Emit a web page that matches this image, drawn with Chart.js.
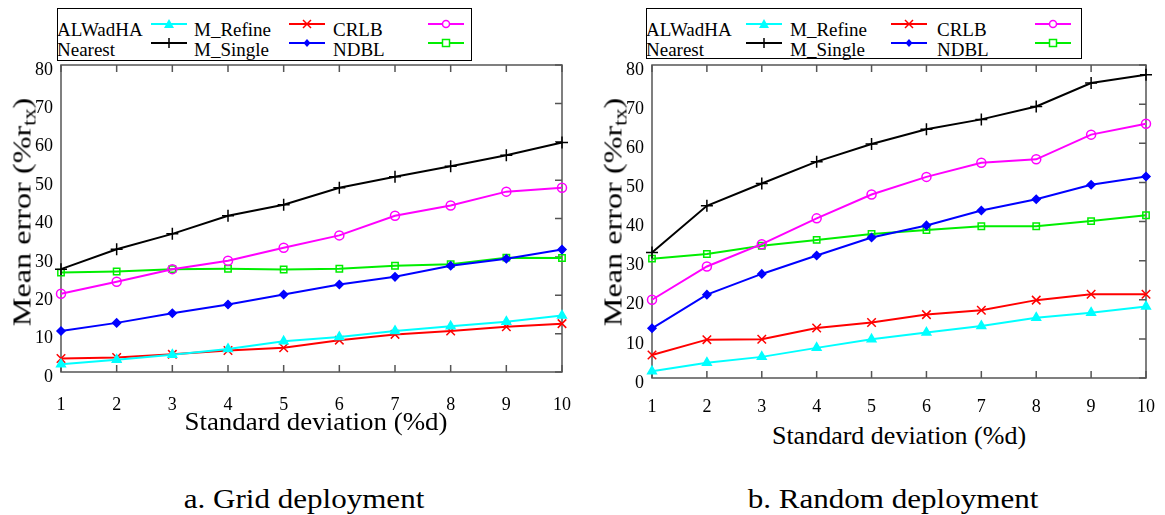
<!DOCTYPE html>
<html lang="en">
<head>
<meta charset="UTF-8">
<title>Mean error vs standard deviation</title>
<script src="https://cdn.jsdelivr.net/npm/chart.js"></script>
<style>
  body { margin: 0; width: 1165px; height: 515px; position: relative; overflow: hidden; background: #fff; font-family: "Liberation Serif", serif; color: #000; }
  .abs { position: absolute; white-space: nowrap; line-height: 1; }
  .box { position: absolute; border: 1.5px solid #000; box-sizing: border-box; }
  .leg { font-size: 19px; }
  .ytitle { font-size: 26px; transform: translate(-50%, -50%) rotate(-90deg) scaleX(1.24); }
  .ytitle sub { font-size: 18px; vertical-align: -5px; }
  .caption { font-size: 27px; transform: translateX(-50%) scaleX(1.15); }
  canvas { position: absolute; }
</style>
</head>
<body>

<!-- legend, left chart -->
<div class="box" style="left:57px; top:8px; width:415px; height:53px;"></div>
<div class="abs leg" style="left:57px; top:20px;">ALWadHA</div>
<div class="abs leg" style="left:57px; top:40px;">Nearest</div>
<svg class="abs" data-m="tri" data-c="#00ffff" style="left:150px; top:15px;" width="40" height="18"></svg>
<svg class="abs" data-m="plus" data-c="#000000" style="left:150px; top:34px;" width="40" height="18"></svg>
<div class="abs leg" style="left:194px; top:20px;">M_Refine</div>
<div class="abs leg" style="left:194px; top:40px;">M_Single</div>
<svg class="abs" data-m="x" data-c="#ff0000" style="left:288px; top:15px;" width="40" height="18"></svg>
<svg class="abs" data-m="dia" data-c="#0000ff" style="left:288px; top:34px;" width="40" height="18"></svg>
<div class="abs leg" style="left:333px; top:20px;">CRLB</div>
<div class="abs leg" style="left:333px; top:40px;">NDBL</div>
<svg class="abs" data-m="circ" data-c="#ff00ff" style="left:427px; top:15px;" width="40" height="18"></svg>
<svg class="abs" data-m="sq" data-c="#00ee00" style="left:427px; top:34px;" width="40" height="18"></svg>

<!-- legend, right chart -->
<div class="box" style="left:646px; top:8px; width:436px; height:51px;"></div>
<div class="abs leg" style="left:646px; top:20px;">ALWadHA</div>
<div class="abs leg" style="left:646px; top:40px;">Nearest</div>
<svg class="abs" data-m="tri" data-c="#00ffff" style="left:745px; top:15px;" width="40" height="18"></svg>
<svg class="abs" data-m="plus" data-c="#000000" style="left:745px; top:34px;" width="40" height="18"></svg>
<div class="abs leg" style="left:790px; top:20px;">M_Refine</div>
<div class="abs leg" style="left:790px; top:40px;">M_Single</div>
<svg class="abs" data-m="x" data-c="#ff0000" style="left:890px; top:15px;" width="40" height="18"></svg>
<svg class="abs" data-m="dia" data-c="#0000ff" style="left:890px; top:34px;" width="40" height="18"></svg>
<div class="abs leg" style="left:937px; top:20px;">CRLB</div>
<div class="abs leg" style="left:937px; top:40px;">NDBL</div>
<svg class="abs" data-m="circ" data-c="#ff00ff" style="left:1034px; top:15px;" width="40" height="18"></svg>
<svg class="abs" data-m="sq" data-c="#00ee00" style="left:1034px; top:34px;" width="40" height="18"></svg>

<canvas id="gridChart" width="585" height="370" style="left:0; top:50px;"></canvas>
<canvas id="randomChart" width="575" height="370" style="left:590px; top:50px;"></canvas>

<div class="abs ytitle" style="left:24px; top:212px;">Mean error (%r<sub>tx</sub>)</div>
<div class="abs ytitle" style="left:615px; top:212px;">Mean error (%r<sub>tx</sub>)</div>
<div class="abs" style="left:316px; top:409px; font-size:26px; transform: translateX(-50%) scaleX(1.035);">Standard deviation (%d)</div>
<div class="abs" style="left:899px; top:423px; font-size:26px; transform: translateX(-50%);">Standard deviation (%d)</div>
<div class="abs caption" style="left:304px; top:486px;">a. Grid deployment</div>
<div class="abs caption" style="left:893px; top:486px;">b. Random deployment</div>

<script>
// x values and axis ticks
const stdDev = [1, 2, 3, 4, 5, 6, 7, 8, 9, 10];
const yTicks = [0, 10, 20, 30, 40, 50, 60, 70, 80];

// a. Grid deployment
const gridAlwadha = [2.0, 3.2, 4.5, 6.0, 8.0, 9.1, 10.7, 11.9, 13.1, 14.7];
const gridNearest = [26.8, 32.0, 36.0, 40.7, 43.6, 48.0, 50.9, 53.6, 56.5, 59.8];
const gridRefine = [3.5, 3.8, 4.6, 5.6, 6.3, 8.3, 9.8, 10.7, 11.8, 12.6];
const gridSingle = [10.7, 12.8, 15.3, 17.6, 20.2, 22.8, 24.8, 27.7, 29.5, 31.9];
const gridCrlb = [20.4, 23.5, 26.8, 29.0, 32.4, 35.6, 40.7, 43.4, 47.0, 48.0];
const gridNdbl = [25.9, 26.2, 26.8, 26.9, 26.7, 26.9, 27.7, 28.1, 29.8, 29.7];

// b. Random deployment
const randAlwadha = [1.7, 3.9, 5.4, 7.7, 9.9, 11.6, 13.3, 15.4, 16.7, 18.3];
const randNearest = [32.1, 44.0, 49.7, 55.3, 59.8, 63.6, 66.1, 69.4, 75.4, 77.5];
const randRefine = [5.9, 9.8, 9.9, 12.8, 14.2, 16.2, 17.3, 19.9, 21.4, 21.4];
const randSingle = [12.7, 21.3, 26.6, 31.3, 35.9, 39.0, 42.8, 45.7, 49.4, 51.5];
const randCrlb = [20.0, 28.5, 34.2, 40.8, 46.9, 51.4, 55.0, 55.9, 62.2, 65.0];
const randNdbl = [30.5, 31.7, 33.8, 35.3, 36.8, 37.8, 38.8, 38.8, 40.1, 41.6];

const FONT = 'Liberation Serif';

// line styles: color, chart.js point style, filled marker?
const styles = [
  { label: 'ALWadHA', color: '#00ffff', point: 'triangle', fill: true, r: 5 },
  { label: 'Nearest', color: '#000000', point: 'cross', fill: false, r: 6 },
  { label: 'M_Refine', color: '#ff0000', point: 'crossRot', fill: false, r: 6 },
  { label: 'M_Single', color: '#0000ff', point: 'rectRot', fill: true, r: 4 },
  { label: 'CRLB', color: '#ff00ff', point: 'circle', fill: false, r: 4.5 },
  { label: 'NDBL', color: '#00ee00', point: 'rect', fill: false, r: 4.5 }
];

// gnuplot style frame with inward ticks
const frameTicks = {
  id: 'frameTicks',
  beforeDatasetsDraw(chart) {
    const { ctx, chartArea: a, scales } = chart;
    ctx.save();
    ctx.strokeStyle = '#555';
    ctx.lineWidth = 1.5;
    ctx.strokeRect(a.left, a.top, a.right - a.left, a.bottom - a.top);
    ctx.beginPath();
    stdDev.forEach(v => {
      const px = scales.x.getPixelForValue(v);
      ctx.moveTo(px, a.bottom); ctx.lineTo(px, a.bottom - 7);
      ctx.moveTo(px, a.top); ctx.lineTo(px, a.top + 7);
    });
    yTicks.forEach(v => {
      const py = scales.y.getPixelForValue(v);
      ctx.moveTo(a.right, py); ctx.lineTo(a.right - 7, py);
    });
    ctx.stroke();
    ctx.restore();
  }
};

function makeChart(id, series, pad, xPad) {
  const datasets = series.map((data, i) => {
    const s = styles[i];
    return {
      label: s.label,
      data: data,
      borderColor: s.color,
      backgroundColor: s.fill ? s.color : 'rgba(0,0,0,0)',
      borderWidth: 2,
      pointStyle: s.point,
      pointRadius: s.r,
      pointBorderWidth: 1.5,
      pointBorderColor: s.color,
      pointBackgroundColor: s.fill ? s.color : 'rgba(0,0,0,0)',
      tension: 0,
      clip: false
    };
  });
  return new Chart(document.getElementById(id), {
    type: 'line',
    data: { labels: stdDev, datasets: datasets },
    options: {
      responsive: false,
      animation: false,
      devicePixelRatio: 1,
      layout: { padding: pad },
      plugins: { legend: { display: false }, tooltip: { enabled: false } },
      scales: {
        x: {
          type: 'linear', min: 1, max: 10,
          grid: { display: false }, border: { display: false },
          ticks: { stepSize: 1, autoSkip: false, maxRotation: 0, padding: xPad, color: '#000', font: { family: FONT, size: 18 } },
          afterFit: s => { s.height = 42; }
        },
        y: {
          min: 0, max: 80,
          grid: { display: false }, border: { display: false },
          ticks: { stepSize: 10, padding: 0, labelOffset: 5, color: '#000', font: { family: FONT, size: 18 } },
          afterFit: s => { s.width = 40; }
        }
      }
    },
    plugins: [frameTicks]
  });
}

makeChart('gridChart', [gridAlwadha, gridNearest, gridRefine, gridSingle, gridCrlb, gridNdbl],
  { left: 21, right: 23, top: 15, bottom: 6 }, 14);
makeChart('randomChart', [randAlwadha, randNearest, randRefine, randSingle, randCrlb, randNdbl],
  { left: 22, right: 14, top: 15, bottom: 0 }, 10);

// legend samples: short line with the marker in the middle
document.querySelectorAll('svg[data-m]').forEach(svg => {
  const c = svg.dataset.c, m = svg.dataset.m, cx = 19, cy = 9;
  let mk = '';
  if (m === 'tri') mk = `<polygon points="${cx},${cy - 5} ${cx - 5},${cy + 4} ${cx + 5},${cy + 4}" fill="${c}"/>`;
  if (m === 'plus') mk = `<path d="M${cx - 5},${cy}H${cx + 5}M${cx},${cy - 5}V${cy + 5}" stroke="${c}" stroke-width="1.5"/>`;
  if (m === 'x') mk = `<path d="M${cx - 4},${cy - 4}L${cx + 4},${cy + 4}M${cx + 4},${cy - 4}L${cx - 4},${cy + 4}" stroke="${c}" stroke-width="1.5"/>`;
  if (m === 'dia') mk = `<polygon points="${cx},${cy - 4} ${cx + 3.5},${cy} ${cx},${cy + 4} ${cx - 3.5},${cy}" fill="${c}"/>`;
  if (m === 'circ') mk = `<circle cx="${cx}" cy="${cy}" r="3.5" fill="#fff" stroke="${c}" stroke-width="1.5"/>`;
  if (m === 'sq') mk = `<rect x="${cx - 3.5}" y="${cy - 3.5}" width="7" height="7" fill="#fff" stroke="${c}" stroke-width="1.5"/>`;
  svg.innerHTML = `<line x1="1" y1="${cy}" x2="37" y2="${cy}" stroke="${c}" stroke-width="2"/>` + mk;
});
</script>
</body>
</html>
